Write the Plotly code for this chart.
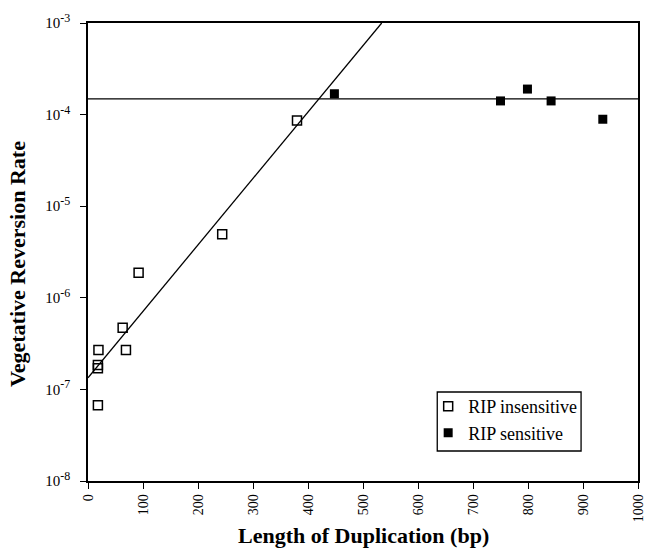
import plotly.graph_objects as go

# RIP insensitive (open squares)
ins_x = [18, 18, 18, 19, 63, 69, 92, 244, 380]
ins_y = [6.7e-8, 1.7e-7, 1.85e-7, 2.7e-7, 4.7e-7, 2.7e-7, 1.88e-6, 4.95e-6, 8.6e-5]

# RIP sensitive (filled squares)
sen_x = [448, 750, 799, 842, 936]
sen_y = [1.69e-4, 1.41e-4, 1.90e-4, 1.41e-4, 8.9e-5]

# Fitted regression line (exponential) and plateau line
fit_x = [0, 534]
fit_y = [1.34e-7, 1.0e-3]
plateau_x = [0, 1000]
plateau_y = [1.485e-4, 1.485e-4]

x_ticks = [0, 100, 200, 300, 400, 500, 600, 700, 800, 900, 1000]
y_ticks = [1e-8, 1e-7, 1e-6, 1e-5, 1e-4, 1e-3]
y_exponents = ["-8", "-7", "-6", "-5", "-4", "-3"]
y_tick_text = ["10<sup><span style='font-size:12px'>%s</span></sup>" % e for e in y_exponents]

FONT = "Liberation Serif"

fig = go.Figure()
fig.add_trace(go.Scatter(x=fit_x, y=fit_y, mode="lines",
                         line=dict(color="black", width=1.3),
                         showlegend=False, hoverinfo="skip"))
fig.add_trace(go.Scatter(x=plateau_x, y=plateau_y, mode="lines",
                         line=dict(color="black", width=1.3),
                         showlegend=False, hoverinfo="skip"))
fig.add_trace(go.Scatter(x=ins_x, y=ins_y, mode="markers", name="RIP insensitive",
                         marker=dict(symbol="square-open", size=9, color="black",
                                     line=dict(width=1.5, color="black"))))
fig.add_trace(go.Scatter(x=sen_x, y=sen_y, mode="markers", name="RIP sensitive",
                         marker=dict(symbol="square", size=9, color="black")))

fig.update_layout(
    width=645, height=548,
    margin=dict(l=87.5, r=7, t=23, b=67, autoexpand=False),
    paper_bgcolor="white", plot_bgcolor="white",
    font=dict(family=FONT, color="black", size=14),
    showlegend=True,
    legend=dict(x=0.6185, y=0.203, xanchor="left", yanchor="top",
                borderwidth=0, bgcolor="rgba(0,0,0,0)",
                font=dict(family=FONT, size=18), tracegroupgap=0,
                itemwidth=30),
    shapes=[dict(type="rect", xref="paper", yref="paper",
                 x0=0.635, x1=0.8965, y0=0.0655, y1=0.1943,
                 line=dict(color="black", width=1.3), layer="below")],
    xaxis=dict(range=[0, 1000], tickmode="array", tickvals=x_ticks,
               ticks="outside", ticklen=6, tickwidth=1.3, tickcolor="black",
               tickangle=-90, tickfont=dict(family=FONT, size=14),
               ticklabeloverflow="allow",
               showline=True, linecolor="black", linewidth=1.5, mirror=True,
               showgrid=False, zeroline=False),
    yaxis=dict(type="log", range=[-8, -3], tickmode="array", tickvals=y_ticks,
               ticktext=y_tick_text,
               ticks="outside", ticklen=6, tickwidth=1.3, tickcolor="black",
               tickfont=dict(family=FONT, size=15), ticklabelstandoff=7,
               ticklabeloverflow="allow",
               showline=True, linecolor="black", linewidth=1.5, mirror=True,
               showgrid=False, zeroline=False),
    annotations=[
        dict(text="<b>Length of Duplication (bp)</b>", xref="paper", yref="paper",
             x=0.5, y=-0.118, xanchor="center", yanchor="middle", showarrow=False,
             font=dict(family=FONT, size=22, color="black")),
        dict(text="<b>Vegetative Reversion Rate</b>", xref="paper", yref="paper",
             x=-0.128, y=0.4727, xanchor="center", yanchor="middle", showarrow=False,
             textangle=-90, font=dict(family=FONT, size=22, color="black")),
    ],
)

fig.write_html("out.html", config={"displayModeBar": False},
               post_script="document.body.style.margin='0';document.body.style.padding='0';")
